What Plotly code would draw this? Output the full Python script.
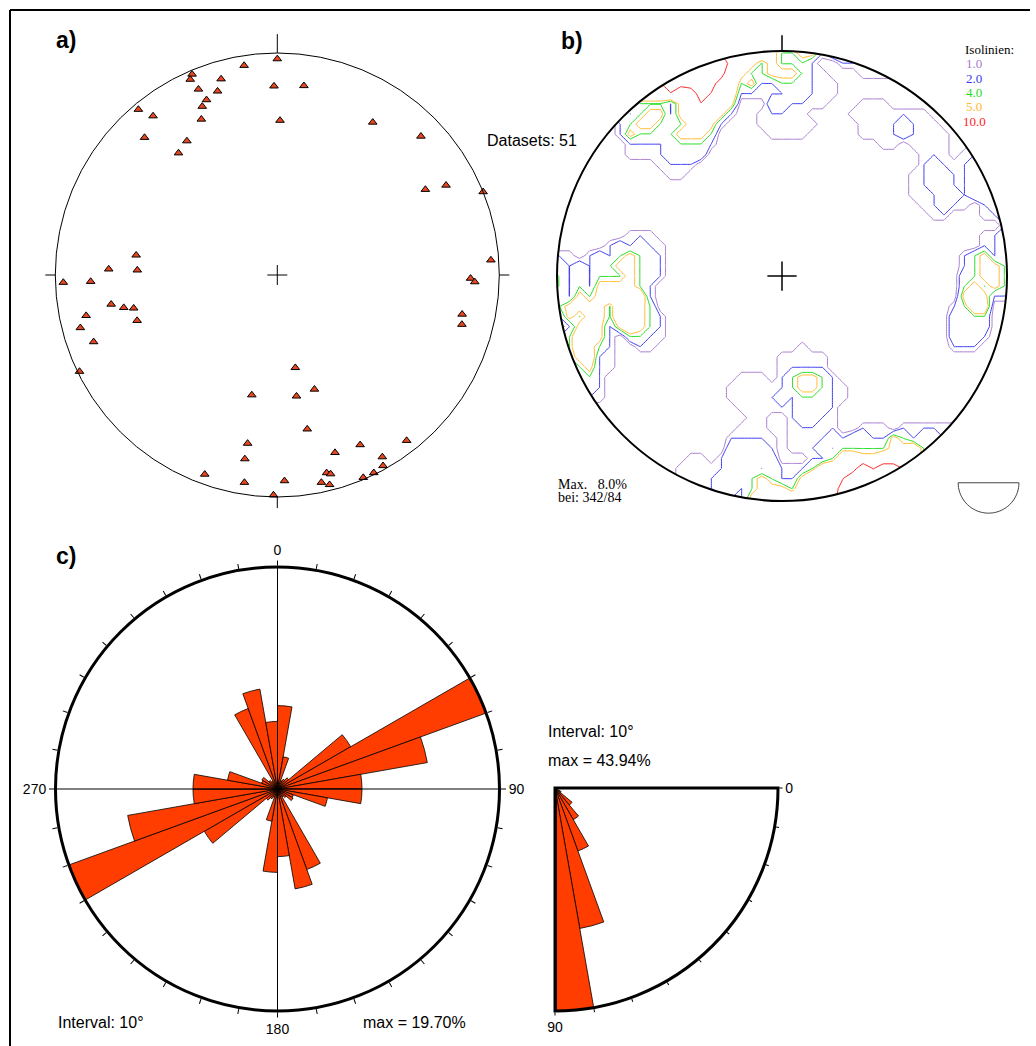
import numpy as np
import plotly.graph_objects as go

W, H = 1036, 1046

# ---------------- data ----------------
# a) poles: trend (deg) / plunge (deg)
trend = [0, 351, 337, 336, 344, 359, 8, 337, 342, 338, 336, 320, 322, 334, 1, 32, 316, 46,
         326, 321, 62, 60, 68, 86, 278, 272, 272, 268, 268, 91, 92, 102, 105, 260, 258, 257,
         258, 252, 255, 250, 244, 169, 162, 192, 171, 169, 142, 190, 154, 162, 190, 150, 151,
         200, 166, 165, 154, 157, 189, 178, 168, 166, 181]
plunge = [3, 5, 2, 4, 9, 16, 15, 10, 14, 16, 18, 3, 10, 23, 31, 20, 15, 11,
          28, 30, 15, 24, 0, 4, 36, 25, 37, 17, 4, 14, 12, 16, 15, 25, 30, 34,
          13, 34, 9, 13, 1, 55, 45, 44, 44, 30, 6, 24, 16, 17, 17, 6, 2,
          5, 9, 8, 1, 1, 6, 8, 5, 3, 1]
n_datasets = 51

# b) isolines
iso_levels = [1.0, 2.0, 4.0, 5.0, 10.0]
iso_colors = ["#a77ccf", "#3a3af0", "#1fdc1f", "#ffb92e", "#ff2020"]

# c) strike rose, 10 deg bins 0-180 (bidirectional), percent
strike_bins = list(range(0, 180, 10))
strike_pct = [7.4, 2.9, 0.8, 1.0, 1.3, 7.5, 19.7, 13.5, 7.5, 7.5, 4.5, 1.5, 1.6, 1.0, 0.8, 7.6, 9.0, 6.0]
strike_max = 19.70

# c) dip rose, 10 deg bins 0-90, percent
dip_bins = list(range(0, 90, 10))
dip_pct = [0, 0, 0.6, 1.4, 4.4, 7.2, 13.2, 28.1, 43.94]
dip_max = 43.94

BAR = "#ff3d00"
FONT = "Liberation Sans"
SERIF = "Liberation Serif"


def px(x):
    return x / W


def py(y):
    return 1 - y / H


# ---------------- projection ----------------
tr = np.radians(np.array(trend, float))
pl = np.array(plunge, float)
rr = np.sqrt(2) * np.sin(np.radians(90 - pl) / 2)
xs = rr * np.sin(tr)
ys = rr * np.cos(tr)

fig = go.Figure()

fig.add_trace(go.Scatter(
    x=xs, y=ys, mode="markers", xaxis="x", yaxis="y",
    marker=dict(symbol="triangle-up", size=7.5, color="#e8461e",
                line=dict(color="black", width=1)),
    hoverinfo="skip", showlegend=False))

# density (counting circle) on a grid
def to_vec(az_deg, th_deg):
    az = np.radians(az_deg)
    th = np.radians(th_deg)
    return np.stack([np.sin(th) * np.sin(az), np.sin(th) * np.cos(az), np.cos(th)], -1)

pv = to_vec(np.array(trend, float), 90 - pl)
g = np.arange(-1.125, 1.1251, 0.045)
X, Y = np.meshgrid(g, g)
Rg = np.hypot(X, Y)
thg = 2 * np.degrees(np.arcsin(np.clip(Rg / np.sqrt(2), 0, 1)))
azg = np.degrees(np.arctan2(X, Y))
gv = to_vec(azg, thg)
dots = np.abs(gv @ pv.T)
count = (dots >= np.cos(np.radians(9.0))).sum(-1)
dens = count / n_datasets * 100.0
dens = dens.astype(float)
dens[Rg > 1.08] = np.nan

for lev, col in zip(iso_levels, iso_colors):
    fig.add_trace(go.Contour(
        x=g, y=g, z=dens, xaxis="x2", yaxis="y2",
        autocontour=False,
        contours=dict(start=lev, end=lev, size=1, coloring="lines", showlabels=False),
        colorscale=[[0, col], [1, col]], showscale=False,
        line=dict(width=1, smoothing=0), hoverinfo="skip", showlegend=False))

# c) strike rose
th_full = [b + 5 for b in strike_bins] + [b + 185 for b in strike_bins]
r_full = strike_pct + strike_pct
fig.add_trace(go.Barpolar(
    r=r_full, theta=th_full, width=[10] * len(th_full), subplot="polar",
    marker=dict(color=BAR, line=dict(color="black", width=0.8)),
    hoverinfo="skip", showlegend=False))
fig.add_trace(go.Scatterpolar(r=[strike_max, 0, strike_max], theta=[0, 0, 180], mode="lines",
                              subplot="polar", line=dict(color="black", width=1),
                              hoverinfo="skip", showlegend=False))
fig.add_trace(go.Scatterpolar(r=[strike_max, 0, strike_max], theta=[90, 90, 270], mode="lines",
                              subplot="polar", line=dict(color="black", width=1),
                              hoverinfo="skip", showlegend=False))

# c) dip rose
fig.add_trace(go.Barpolar(
    r=dip_pct, theta=[b + 5 for b in dip_bins], width=[10] * len(dip_bins), subplot="polar2",
    marker=dict(color=BAR, line=dict(color="black", width=0.8)),
    hoverinfo="skip", showlegend=False))
fig.add_trace(go.Scatterpolar(r=[0, dip_max], theta=[0, 0], mode="lines", subplot="polar2",
                              line=dict(color="black", width=1.2), hoverinfo="skip", showlegend=False))
fig.add_trace(go.Scatterpolar(r=[0, dip_max], theta=[90, 90], mode="lines", subplot="polar2",
                              line=dict(color="black", width=3.5), hoverinfo="skip", showlegend=False))

# ---------------- layout ----------------
ca, Ra = (277.3, 275.0), 222.0
ha = 1.1 * Ra
cb, Rb = (782.0, 276.0), 225.0

noax = dict(visible=False, showgrid=False, zeroline=False, fixedrange=True)
layout = dict(
    width=W, height=H, margin=dict(l=0, r=0, t=0, b=0),
    paper_bgcolor="white", plot_bgcolor="white", showlegend=False,
    xaxis=dict(noax, domain=[px(ca[0] - ha), px(ca[0] + ha)], range=[-1.1, 1.1]),
    yaxis=dict(noax, domain=[py(ca[1] + ha), py(ca[1] - ha)], range=[-1.1, 1.1]),
    xaxis2=dict(noax, domain=[px(cb[0] - 1.13 * Rb), px(cb[0] + 1.1 * Rb)], range=[-1.13, 1.1]),
    yaxis2=dict(noax, domain=[py(cb[1] + 1.13 * Rb), py(cb[1] - 1.13 * Rb)], range=[-1.13, 1.13]),
    polar=dict(
        domain=dict(x=[px(55.5), px(499.5)], y=[py(1011), py(567)]),
        bgcolor="white",
        radialaxis=dict(range=[0, strike_max], visible=False, showgrid=False),
        angularaxis=dict(rotation=90, direction="clockwise", showgrid=False,
                         tickvals=list(range(0, 360, 10)),
                         ticktext=[{0: "0", 90: "90", 180: "180", 270: "270"}.get(v, "") for v in range(0, 360, 10)],
                         ticks="outside", ticklen=5, tickwidth=1, tickcolor="black",
                         linecolor="black", linewidth=3,
                         tickfont=dict(family=FONT, size=14, color="black")),
    ),
    polar2=dict(
        domain=dict(x=[px(555), px(778)], y=[py(1011), py(788)]),
        sector=[-90, 0], bgcolor="white",
        radialaxis=dict(range=[0, dip_max], visible=False, showgrid=False),
        angularaxis=dict(rotation=0, direction="clockwise", showgrid=False,
                         tickvals=list(range(0, 100, 10)),
                         ticktext=["0"] + [""] * 8 + ["90"],
                         ticks="outside", ticklen=3, tickwidth=1, tickcolor="black",
                         linecolor="black", linewidth=3,
                         tickfont=dict(family=FONT, size=14, color="black")),
    ),
)
fig.update_layout(**layout)

shapes = []
shapes.append(dict(type="circle", xref="x", yref="y", x0=-1, y0=-1, x1=1, y1=1,
                   line=dict(color="black", width=1)))
for (x0, y0, x1, y1) in [(0, 1, 0, 1.085), (1, 0, 1.045, 0), (0, -1, 0, -1.05), (-1, 0, -1.045, 0),
                         (-0.045, 0, 0.045, 0), (0, -0.045, 0, 0.045)]:
    shapes.append(dict(type="line", xref="x", yref="y", x0=x0, y0=y0, x1=x1, y1=y1,
                       line=dict(color="black", width=1)))

# panel b mask annulus outside primitive circle
t = np.linspace(0, 2 * np.pi, 181)
outer = " L ".join(f"{1.14 * np.cos(a):.4f},{1.14 * np.sin(a):.4f}" for a in t)
inner = " L ".join(f"{1.0 * np.cos(a):.4f},{1.0 * np.sin(a):.4f}" for a in t[::-1])
shapes.append(dict(type="path", xref="x2", yref="y2", path=f"M {outer} Z M {inner} Z",
                   fillcolor="white", fillrule="evenodd", line=dict(width=0), layer="above"))
shapes.append(dict(type="circle", xref="x2", yref="y2", x0=-1, y0=-1, x1=1, y1=1,
                   line=dict(color="black", width=2)))
for (x0, y0, x1, y1) in [(0, 1, 0, 1.07), (-0.065, 0, 0.065, 0), (0, -0.065, 0, 0.065)]:
    shapes.append(dict(type="line", xref="x2", yref="y2", x0=x0, y0=y0, x1=x1, y1=y1,
                       line=dict(color="black", width=1.5)))
sc = (0.918, -0.919)
sr = 0.135
ang = np.linspace(0, np.pi, 40)
semi = " L ".join(f"{sc[0] - sr * np.cos(a):.4f},{sc[1] - sr * np.sin(a):.4f}" for a in ang)
shapes.append(dict(type="path", xref="x2", yref="y2",
                   path=f"M {sc[0] - sr:.4f},{sc[1]:.4f} L {semi} Z",
                   line=dict(color="#444444", width=1), fillcolor="rgba(0,0,0,0)"))
shapes.append(dict(type="line", xref="paper", yref="paper", x0=px(10), x1=px(10), y0=py(10), y1=py(1046),
                   line=dict(color="black", width=2)))
shapes.append(dict(type="line", xref="paper", yref="paper", x0=px(10), x1=px(1030), y0=py(10), y1=py(10),
                   line=dict(color="black", width=2)))
fig.update_layout(shapes=shapes)


def ann(text, x, y, size=16, family=FONT, color="black", xanchor="center", bold=False):
    return dict(text=f"<b>{text}</b>" if bold else text, x=px(x), y=py(y), xref="paper", yref="paper",
                showarrow=False, xanchor=xanchor, yanchor="middle",
                font=dict(family=family, size=size, color=color))


anns = [
    ann("a)", 66, 40, 23, bold=True),
    ann("b)", 572, 41, 23, bold=True),
    ann("c)", 66, 556, 23, bold=True),
    ann(f"Datasets: {n_datasets}", 532, 140, 16),
    ann("Isolinien:", 989, 49, 13, SERIF),
    ann("Max.&nbsp;&nbsp;&nbsp;8.0%", 556, 484, 14, SERIF, xanchor="left"),
    ann("bei: 342/84", 556, 497, 14, SERIF, xanchor="left"),
    ann("Interval: 10°", 56, 1022, 16, xanchor="left"),
    ann(f"max = {strike_max:.2f}%", 361, 1022, 16, xanchor="left"),
    ann("Interval: 10°", 546, 731, 16, xanchor="left"),
    ann(f"max = {dip_max:.2f}%", 546, 760, 16, xanchor="left"),
]
iso_y = [63, 78, 92.5, 107, 121.5]
for lev, col, yy in zip(iso_levels, iso_colors, iso_y):
    anns.append(ann(f"{lev:.1f}", 974, yy, 13, SERIF, color=col))
fig.update_layout(annotations=anns)

fig.write_html("out.html", config={"displayModeBar": False},
               post_script="document.body.style.margin='0px';document.body.style.overflow='hidden';")
